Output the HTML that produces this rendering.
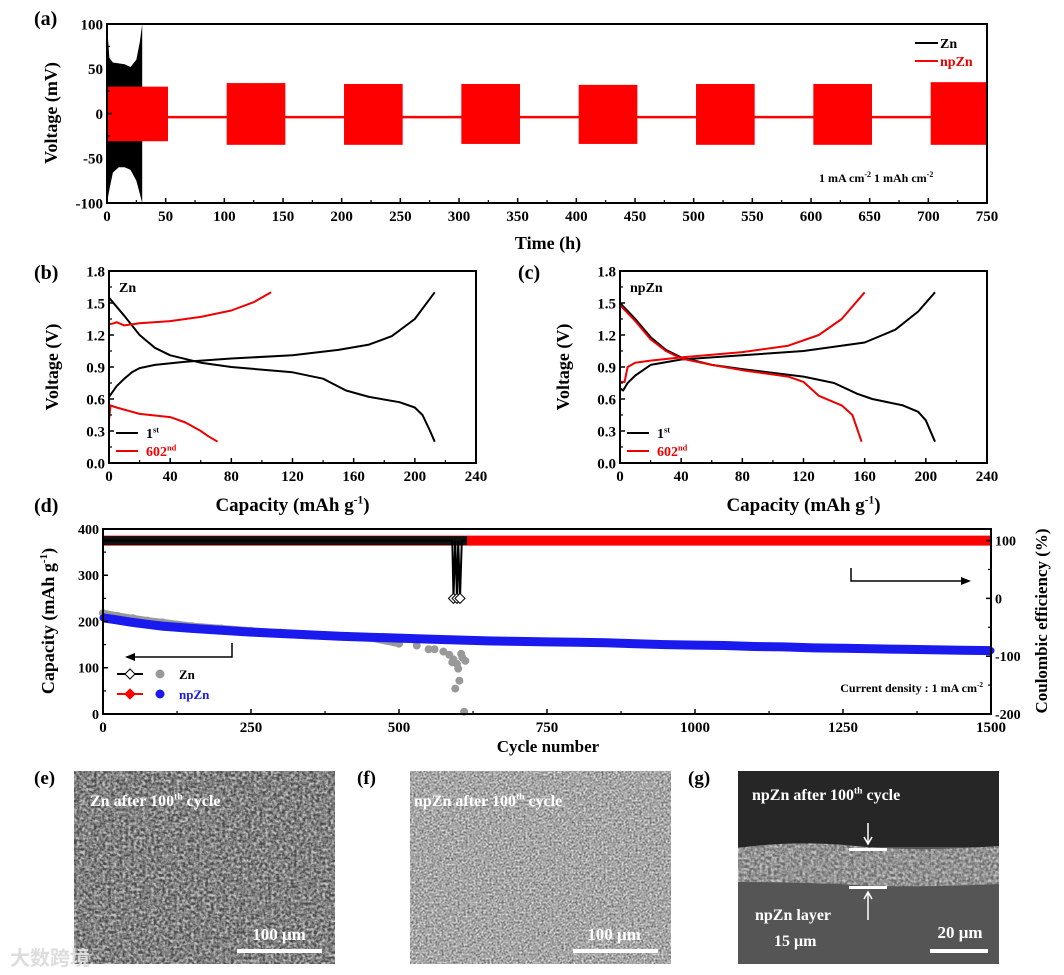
<!DOCTYPE html>
<html><head><meta charset="utf-8"><style>
html,body{margin:0;padding:0;background:#fff;}
svg{display:block;font-family:"Liberation Serif",serif;font-weight:bold;}
</style></head><body>
<svg id="fig" xmlns="http://www.w3.org/2000/svg" width="1064" height="975" viewBox="0 0 1064 975">
<defs>
<filter id="semE" x="0" y="0" width="100%" height="100%"><feTurbulence type="fractalNoise" baseFrequency="0.35" numOctaves="2" seed="3"/><feColorMatrix type="matrix" values="0 0 0 0 0.55  0 0 0 0 0.55  0 0 0 0 0.55  1.2 1.2 1.2 0 -1.35"/><feComposite in2="SourceGraphic" operator="in"/></filter>
<filter id="semF" x="0" y="0" width="100%" height="100%"><feTurbulence type="fractalNoise" baseFrequency="0.5" numOctaves="2" seed="7"/><feColorMatrix type="matrix" values="0 0 0 0 0.72  0 0 0 0 0.72  0 0 0 0 0.72  1.2 1.2 1.2 0 -1.3"/><feComposite in2="SourceGraphic" operator="in"/></filter>
</defs>
</svg>
<script>
// ---------- DATA ----------
const aBlockStart=[0,102,202,302,402,502,602,702];
const aBlockEnd=[52,152,252,352,452,552,652,750];
const aBlockUpper=[30,34,33,33,32,33,33,35];
const aBlockLower=[-31,-35,-35,-34,-34,-35,-35,-35];
const aBaseline=-4;
const aZnTime=[0,2,5,10,15,20,25,28,30];
const aZnUpper=[100,62,57,56,55,52,60,80,100];
const aZnLower=[-100,-85,-66,-60,-60,-63,-75,-90,-100];
const aXTicks=[0,50,100,150,200,250,300,350,400,450,500,550,600,650,700,750];
const aYTicks=[-100,-50,0,50,100];
const bChg1Cap=[0,2,5,10,15,20,30,50,80,120,150,170,185,200,213];
const bChg1V=[0.62,0.66,0.72,0.79,0.85,0.89,0.92,0.95,0.98,1.01,1.06,1.11,1.19,1.35,1.6];
const bDis1Cap=[0,10,20,30,40,60,80,120,140,155,170,190,200,205,210,213];
const bDis1V=[1.55,1.38,1.2,1.08,1.01,0.94,0.9,0.85,0.79,0.68,0.62,0.57,0.52,0.45,0.3,0.2];
const bChg602Cap=[0,3,5,10,20,40,60,80,95,106];
const bChg602V=[1.3,1.31,1.32,1.29,1.31,1.33,1.37,1.43,1.51,1.6];
const bDis602Cap=[0,1,5,20,40,50,60,65,71];
const bDis602V=[0.4,0.54,0.52,0.46,0.43,0.38,0.3,0.25,0.2];
const cChg1Cap=[0,2,5,10,20,40,80,120,160,180,195,206];
const cChg1V=[0.7,0.68,0.75,0.82,0.92,0.97,1.01,1.05,1.13,1.25,1.42,1.6];
const cDis1Cap=[0,10,20,30,40,60,80,120,140,155,165,185,195,200,206];
const cDis1V=[1.5,1.35,1.18,1.06,0.99,0.92,0.88,0.81,0.75,0.65,0.6,0.54,0.48,0.4,0.2];
const cChg602Cap=[0,3,5,10,20,40,80,110,130,145,160];
const cChg602V=[0.76,0.76,0.9,0.94,0.96,0.99,1.04,1.1,1.2,1.35,1.6];
const cDis602Cap=[0,10,20,30,40,60,80,110,120,130,145,152,158];
const cDis602V=[1.48,1.33,1.16,1.05,0.98,0.92,0.87,0.81,0.76,0.63,0.54,0.45,0.2];
const bcXTicks=[0,40,80,120,160,200,240];
const bcYTicks=[0,0.3,0.6,0.9,1.2,1.5,1.8];
const dNpCycles=[0,25,50,75,100,150,200,250,300,350,400,450,500,550,600,650,700,750,800,850,900,950,1000,1050,1100,1150,1200,1250,1300,1350,1400,1450,1500];
const dNpCap=[208,203,198,194,190,185,181,177,174,171,168,166,164,162,160,158,157,156,155,154,152,150,149,148,146,145,143,142,141,140,139,138,137];
const dZnCycles=[0,25,50,75,100,150,200,250,300,350,400,450,500,530,550,560,575,585,590,592,595,598,600,602,605,607,610,612];
const dZnCap=[218,212,207,202,198,190,185,180,176,172,168,165,152,148,140,140,135,128,112,118,55,108,98,72,130,122,5,115];
const dNpCeCycles=[0,250,500,750,1000,1250,1500];
const dNpCe=[100,100,100,100,100,100,100];
const dZnCeCycles=[0,100,200,300,400,500,550,580,590,592,595,598,600,603,606,610,615];
const dZnCe=[100,100,100,100,100,100,100,100,100,0,100,0,100,0,100,100,100];
const dXTicks=[0,250,500,750,1000,1250,1500];
const dYTicks=[0,100,200,300,400];
const dCeTicks=[-200,-100,0,100];

// ---------- HELPERS ----------
const NS='http://www.w3.org/2000/svg';
const svg=document.getElementById('fig');
function mk(tag,attrs,parent,text){const e=document.createElementNS(NS,tag);for(const k in attrs)e.setAttribute(k,attrs[k]);if(text!=null)e.textContent=text;(parent||svg).appendChild(e);return e;}
function lin(d0,d1,r0,r1){return v=>r0+(v-d0)*(r1-r0)/(d1-d0);}
function grp(name){const g=mk('g',{});return g;}
function frame(g,x0,y0,x1,y1,name){const r=mk('rect',{x:x0,y:y0,width:x1-x0,height:y1-y0,fill:'none',stroke:'#000','stroke-width':2},g);}
function xAxis(g,sx,ticks,yb,fs,minorStep,lab){
  ticks.forEach((t,i)=>{const x=sx(t);
    const l=mk('line',{x1:x,x2:x,y1:yb,y2:yb-5,stroke:'#000','stroke-width':1.5},g);
    
    const tx=mk('text',{x:x,y:yb+fs+3,'font-size':fs,'text-anchor':'middle'},g,lab?lab(t):String(t));
    
    if(minorStep&&i<ticks.length-1){const xm=sx(t+minorStep);const m=mk('line',{x1:xm,x2:xm,y1:yb,y2:yb-3,stroke:'#000','stroke-width':1.2},g);}
  });
}
function yAxis(g,sy,ticks,xl,fs,minorStep,lab,right){
  ticks.forEach((t,i)=>{const y=sy(t);const d=right?-5:5;
    const l=mk('line',{x1:xl,x2:xl+d,y1:y,y2:y,stroke:'#000','stroke-width':1.5},g);
    
    const tx=mk('text',{x:right?xl+4:xl-4,y:y+fs*0.35,'font-size':fs,'text-anchor':right?'start':'end'},g,lab?lab(t):String(t));
    
    if(minorStep&&i<ticks.length-1){const ym=sy(t+minorStep);const m=mk('line',{x1:xl,x2:xl+(right?-3:3),y1:ym,y2:ym,stroke:'#000','stroke-width':1.2},g);}
  });
}
function pts(xs,ys,sx,sy){return xs.map((x,i)=>sx(x).toFixed(1)+','+sy(ys[i]).toFixed(1)).join(' ');}
function label(txt,x,y,fs,name,anchor){const t=mk('text',{x:x,y:y,'font-size':fs,'text-anchor':anchor||'start'},svg,txt);return t;}
function supText(parent,x,y,fs,base,sup,after,anchor,fill,name){
  const t=mk('text',{x:x,y:y,'font-size':fs,'text-anchor':anchor||'start',fill:fill||'#000'},parent);
  
  mk('tspan',{},t,base);mk('tspan',{dy:-fs*0.4,'font-size':fs*0.6},t,sup);
  if(after)mk('tspan',{dy:fs*0.4},t,after);return t;}

// ---------- PANEL A ----------
(function(){
  const g=grp('panel-a-voltage-time');
  const x0=107,x1=987,y0=24,y1=203;
  const sx=lin(0,750,x0,x1),sy=lin(-100,100,y1,y0);
  const top=aZnTime.map((t,i)=>sx(t)+','+sy(aZnUpper[i]));
  const bot=aZnTime.map((t,i)=>sx(t)+','+sy(aZnLower[i])).reverse();
  const zn=mk('polygon',{points:top.concat(bot).join(' '),fill:'#000'},g);
  
  const bl=mk('line',{x1:sx(0),x2:sx(750),y1:sy(aBaseline),y2:sy(aBaseline),stroke:'#f00','stroke-width':2.5},g);
  
  aBlockStart.forEach((s,i)=>{
    const r=mk('rect',{x:sx(s),y:sy(aBlockUpper[i]),width:sx(aBlockEnd[i])-sx(s),height:sy(aBlockLower[i])-sy(aBlockUpper[i]),fill:'#f00'},g);
    
  });
  frame(g,x0,y0,x1,y1,'panel-a-frame');
  xAxis(g,sx,aXTicks,y1,15,25);
  yAxis(g,sy,aYTicks,x0,15,25);
  const yt=mk('text',{x:0,y:0,'font-size':18,'text-anchor':'middle',transform:'translate(57,113) rotate(-90)'},g,'Voltage (mV)');
  
  const xt=mk('text',{x:548,y:249,'font-size':18,'text-anchor':'middle'},g,'Time (h)');
  
  const l1=mk('line',{x1:915,x2:938,y1:43,y2:43,stroke:'#000','stroke-width':2},g);
  const t1=mk('text',{x:940,y:48,'font-size':14},g,'Zn');
  const l2=mk('line',{x1:915,x2:938,y1:61,y2:61,stroke:'#f00','stroke-width':2},g);
  const t2=mk('text',{x:940,y:66,'font-size':14,fill:'#e00'},g,'npZn');
  const c=mk('text',{x:819,y:182,'font-size':12},g);
  mk('tspan',{},c,'1 mA cm');mk('tspan',{dy:-5,'font-size':8},c,'-2');mk('tspan',{dy:5},c,'  1 mAh cm');mk('tspan',{dy:-5,'font-size':8},c,'-2');
})();
label('(a)',34,25,20,'panel-a-label');

// ---------- PANELS B, C ----------
function vcPanel(name,x0,series,title,letter,lx){
  const g=grp(name);
  const x1=x0+367,y0=271,y1=463;
  const sx=lin(0,240,x0,x1),sy=lin(0,1.8,y1,y0);
  series.forEach(s=>{const p=mk('polyline',{points:pts(s[0],s[1],sx,sy),fill:'none',stroke:s[2],'stroke-width':2,'stroke-linejoin':'round'},g);
    });
  frame(g,x0,y0,x1,y1,name+'-frame');
  xAxis(g,sx,bcXTicks,y1,15,20);
  yAxis(g,sy,bcYTicks,x0,15,0.15,t=>t.toFixed(1));
  const yt=mk('text',{x:0,y:0,'font-size':18,'text-anchor':'middle',transform:'translate('+(x0-51)+',367) rotate(-90)'},g,'Voltage (V)');
  
  supText(g,(x0+x1)/2,511,19,'Capacity (mAh g','-1',')','middle','#000','x-axis-title');
  const tt=mk('text',{x:x0+10,y:292,'font-size':14},g,title);
  const l1=mk('line',{x1:x0+7,x2:x0+29,y1:433,y2:433,stroke:'#000','stroke-width':2},g);
  supText(g,x0+37,438,14,'1','st',null,'start','#000','legend-1st');
  const l2=mk('line',{x1:x0+7,x2:x0+29,y1:451,y2:451,stroke:'#e00','stroke-width':2},g);
  supText(g,x0+37,456,14,'602','nd',null,'start','#e00','legend-602nd');
  label(letter,lx,279,20,name+'-label');
}
vcPanel('panel-b-zn',109,[[bChg1Cap,bChg1V,'#000','zn-1st-charge'],[bDis1Cap,bDis1V,'#000','zn-1st-discharge'],[bChg602Cap,bChg602V,'#e00','zn-602nd-charge'],[bDis602Cap,bDis602V,'#e00','zn-602nd-discharge']],'Zn','(b)',34);
vcPanel('panel-c-npzn',620,[[cChg1Cap,cChg1V,'#000','npzn-1st-charge'],[cDis1Cap,cDis1V,'#000','npzn-1st-discharge'],[cChg602Cap,cChg602V,'#e00','npzn-602nd-charge'],[cDis602Cap,cDis602V,'#e00','npzn-602nd-discharge']],'npZn','(c)',518);

// ---------- PANEL D ----------
(function(){
  const g=grp('panel-d-cycling');
  const x0=103,x1=991,y0=529,y1=714;
  const sx=lin(0,1500,x0,x1),sy=lin(0,400,y1,y0),sce=lin(-200,120,y1,y0);
  const npce=mk('polyline',{points:pts(dNpCeCycles,dNpCe,sx,sce),fill:'none',stroke:'#f00','stroke-width':10},g);
  
  const hiC=[],hiV=[];dZnCeCycles.forEach((c,i)=>{if(dZnCe[i]>50){hiC.push(c);hiV.push(dZnCe[i]);}});
  const znceBand=mk('polyline',{points:pts(hiC,hiV,sx,sce),fill:'none',stroke:'#111','stroke-width':9},g);
  
  const znce=mk('polyline',{points:pts(dZnCeCycles,dZnCe,sx,sce),fill:'none',stroke:'#000','stroke-width':2},g);
  
  dZnCeCycles.forEach((c,i)=>{if(dZnCe[i]<50){const x=sx(c),y=sce(dZnCe[i]);
    const d=mk('polygon',{points:`${x},${y-5} ${x+5},${y} ${x},${y+5} ${x-5},${y}`,fill:'#fff',stroke:'#000','stroke-width':1},g);
    }});
  const zband=mk('polyline',{points:pts(dZnCycles.slice(0,13),dZnCap.slice(0,13),sx,sy),fill:'none',stroke:'#999','stroke-width':7},g);
  
  dZnCycles.forEach((c,i)=>{const p=mk('circle',{cx:sx(c),cy:sy(dZnCap[i]),r:4,fill:'#999'},g);
    });
  const nband=mk('polyline',{points:pts(dNpCycles,dNpCap,sx,sy),fill:'none',stroke:'#1a1aee','stroke-width':9},g);
  
  dNpCycles.forEach((c,i)=>{const p=mk('circle',{cx:sx(c),cy:sy(dNpCap[i]),r:3.5,fill:'#1a1aee'},g);
    });
  frame(g,x0,y0,x1,y1,'panel-d-frame');
  xAxis(g,sx,dXTicks,y1,15,125);
  yAxis(g,sy,dYTicks,x0,14,50);
  yAxis(g,sce,dCeTicks,x1,14,50,null,true);
  const yt=mk('text',{x:0,y:0,'font-size':18,'text-anchor':'middle',transform:'translate(54,621) rotate(-90)'},g);
  
  mk('tspan',{},yt,'Capacity (mAh g');mk('tspan',{dy:-7,'font-size':11},yt,'-1');mk('tspan',{dy:7},yt,')');
  const yr=mk('text',{x:0,y:0,'font-size':17,'text-anchor':'middle',transform:'translate(1047,621) rotate(-90)'},g,'Coulombic efficiency (%)');
  
  const xt=mk('text',{x:548,y:752,'font-size':17,'text-anchor':'middle'},g,'Cycle number');
  
  const a1=mk('polyline',{points:'232,643 232,657 132,657',fill:'none',stroke:'#000','stroke-width':1.5},g);
  const h1=mk('polygon',{points:'125,657 135,653 135,661',fill:'#000'},g);
  const a2=mk('polyline',{points:'851,568 851,581 963,581',fill:'none',stroke:'#000','stroke-width':1.5},g);
  const h2=mk('polygon',{points:'971,581 961,577 961,585',fill:'#000'},g);
  [['Zn','#000','#fff',674,'#999','#000'],['npZn','#f00','#f00',694,'#1a1aee','#1a1aee']].forEach(L=>{
    const ln=mk('line',{x1:117,x2:143,y1:L[3],y2:L[3],stroke:L[1],'stroke-width':2},g);
    const dm=mk('polygon',{points:`130,${L[3]-5} 135,${L[3]} 130,${L[3]+5} 125,${L[3]}`,fill:L[2],stroke:L[1],'stroke-width':1},g);
    const ci=mk('circle',{cx:160,cy:L[3],r:4.5,fill:L[4]},g);
    const tx=mk('text',{x:179,y:L[3]+5,'font-size':13,fill:L[5]},g,L[0]);
  });
  supText(g,983,692,12,'Current density : 1 mA cm','-2',null,'end','#000','current-density-note');
})();
label('(d)',34,512,20,'panel-d-label');

// ---------- SEM IMAGES ----------
function sem(x,name,letter,lx,base,filt){
  const g=grp(name);
  const r=mk('rect',{x:x,y:771,width:261,height:193,fill:base},g);
  const t=mk('rect',{x:x,y:771,width:261,height:193,fill:'#fff',filter:'url(#'+filt+')'},g);
  label(letter,lx,784,19,name+'-label');
  return g;
}
const ge=sem(74,'sem-image-e','(e)',34,'#4a4a4a','semE');
supText(ge,90,806,16,'Zn after 100','th',' cycle','start','#fff','sem-e-caption');
const te=mk('text',{x:279,y:940,'font-size':17,fill:'#fff','text-anchor':'middle'},ge,'100 μm');
const be=mk('rect',{x:237,y:949,width:85,height:4,fill:'#fff'},ge);
const gf=sem(410,'sem-image-f','(f)',357,'#6e6e6e','semF');
supText(gf,414,806,16,'npZn after 100','th',' cycle','start','#fff','sem-f-caption');
const tf=mk('text',{x:614,y:940,'font-size':17,fill:'#fff','text-anchor':'middle'},gf,'100 μm');
const bf=mk('rect',{x:573,y:949,width:85,height:4,fill:'#fff'},gf);
(function(){
  const g=grp('sem-image-g');
  const x=738,w=261;
  const a=mk('rect',{x:x,y:771,width:w,height:193,fill:'#555'},g);
  const b=mk('rect',{x:x,y:771,width:w,height:76,fill:'#262626'},g);
  const dp=`M${x},848 Q795,840 855,846 T${x+w},846 L${x+w},884 Q905,888 855,885 T${x},882 Z`;
  const c=mk('path',{d:dp,fill:'#6a6a6a'},g);
  const c2=mk('path',{d:dp,fill:'#fff',filter:'url(#semE)'},g);
  supText(g,752,800,16,'npZn after 100','th',' cycle','start','#fff','sem-g-caption');
  const ar1=mk('path',{d:'M868,823 L868,843 M864,837 L868,844 L872,837',stroke:'#fff','stroke-width':1.5,fill:'none'},g);
  const m1=mk('rect',{x:849,y:848,width:38,height:3,fill:'#fff'},g);
  const m2=mk('rect',{x:849,y:886,width:38,height:3,fill:'#fff'},g);
  const ar2=mk('path',{d:'M868,920 L868,893 M864,899 L868,892 L872,899',stroke:'#fff','stroke-width':1.5,fill:'none'},g);
  const t1=mk('text',{x:755,y:920,'font-size':16,fill:'#fff'},g,'npZn layer');
  const t2=mk('text',{x:774,y:946,'font-size':16,fill:'#fff'},g,'15 μm');
  const t3=mk('text',{x:960,y:938,'font-size':17,fill:'#fff','text-anchor':'middle'},g,'20 μm');
  const s=mk('rect',{x:930,y:949,width:58,height:4,fill:'#fff'},g);
  label('(g)',688,784,19,'sem-g-label');
})();
const wm=mk('text',{x:10,y:965,'font-size':20,fill:'#ddd','font-family':'"Noto Sans CJK SC",sans-serif'},svg,'大数跨境');

</script>
</body></html>
